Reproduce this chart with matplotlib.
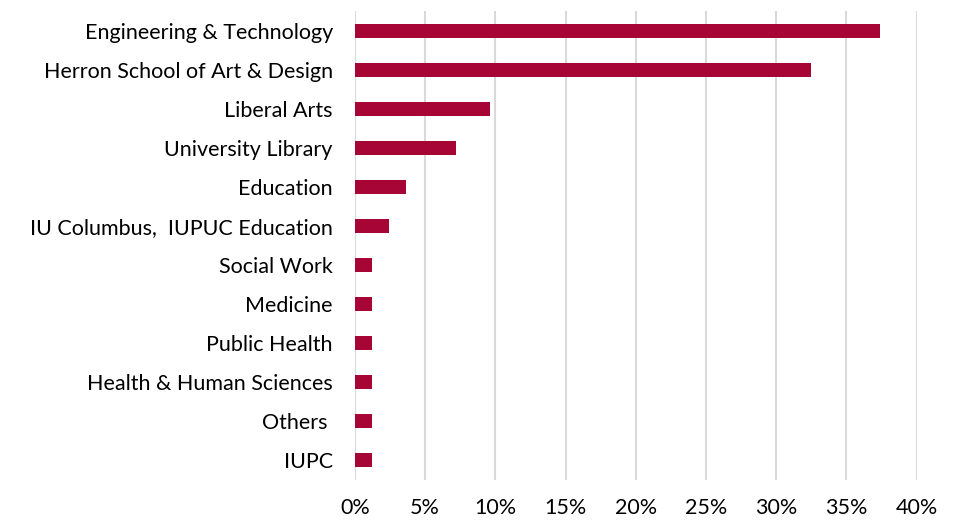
import matplotlib.pyplot as plt
from matplotlib.ticker import PercentFormatter

categories = ['Engineering & Technology', 'Herron School of Art & Design', 'Liberal Arts',
              'University Library', 'Education', 'IU Columbus,  IUPUC Education',
              'Social Work', 'Medicine', 'Public Health', 'Health & Human Sciences',
              'Others ', 'IUPC']
values = [37.4, 32.5, 9.6, 7.2, 3.6, 2.4, 1.2, 1.2, 1.2, 1.2, 1.2, 1.2]
xticks = [0, 5, 10, 15, 20, 25, 30, 35, 40]

plt.rcParams['font.family'] = ['Lato', 'DejaVu Sans']
fontsize = 15.5

fig = plt.figure(figsize=(9.54, 5.23), dpi=100)
ax = fig.add_axes([355 / 954, 1 - 480 / 523, (916.5 - 355) / 954, 469 / 523])

y = list(range(len(categories)))
ax.barh(y, values, height=0.36, color='#A60535', zorder=3)
ax.set_yticks(y, categories, fontsize=fontsize)
ax.set_ylim(len(categories) - 0.5, -0.5)
ax.set_xlim(0, 40)
ax.set_xticks(xticks)
ax.xaxis.set_major_formatter(PercentFormatter(decimals=0))
ax.tick_params(axis='x', labelsize=fontsize, length=0, pad=13)
ax.tick_params(axis='y', length=0, pad=16)
ax.grid(axis='x', color='#d9d9d9', linewidth=1.5, zorder=0)
for s in ax.spines.values():
    s.set_visible(False)

fig.savefig('out.png', dpi=100)
